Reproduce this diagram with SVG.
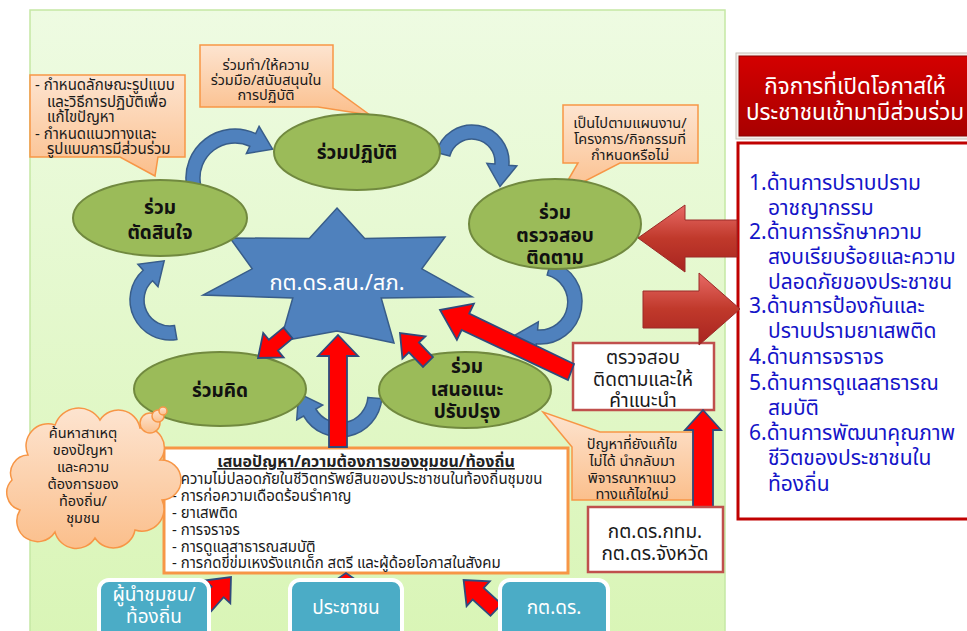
<svg xmlns="http://www.w3.org/2000/svg" width="967" height="631" viewBox="0 0 967 631">
<defs>
<linearGradient id="gPanel" x1="0" y1="0" x2="0" y2="1"><stop offset="0" stop-color="#eefbe2"/><stop offset="1" stop-color="#d9f5b6"/></linearGradient>
<linearGradient id="gPeach" x1="0" y1="0" x2="0" y2="1"><stop offset="0" stop-color="#fde4d0"/><stop offset="1" stop-color="#fbbf8c"/></linearGradient>
<linearGradient id="gRed" x1="0" y1="0" x2="0" y2="1"><stop offset="0" stop-color="#d40000"/><stop offset="1" stop-color="#a80000"/></linearGradient>
<linearGradient id="gBig" x1="0" y1="0" x2="0" y2="1"><stop offset="0" stop-color="#e86a66"/><stop offset="0.5" stop-color="#c0392b"/><stop offset="1" stop-color="#a82420"/></linearGradient>
<style>
text{font-family:Tahoma,"Noto Sans Thai","Noto Sans","DejaVu Sans",sans-serif;}
.call{fill:url(#gPeach);stroke:#f79646;stroke-width:1.5;}
.ct{font-size:15px;fill:#1a1a1a;}
.ctc{font-size:14.5px;fill:#1a1a1a;text-anchor:middle;}
.ell{fill:#9bbb59;stroke:#71893f;stroke-width:2;}
.et{font-size:19px;font-weight:bold;fill:#111;text-anchor:middle;}
.blue{fill:#4f81bd;stroke:#385d8a;stroke-width:1.5;}
.red{fill:#ff0000;stroke:#2f4a7c;stroke-width:1.8;stroke-linejoin:miter;}
.wbox{fill:#fff;stroke:#c0504d;stroke-width:2.5;}
.bt{font-size:19px;fill:#1a1a1a;text-anchor:middle;}
.teal{fill:#4bacc6;stroke:#fff;stroke-width:4;}
.tt{font-size:19px;fill:#fff;text-anchor:middle;}
.lt{font-size:21px;fill:#1414c8;}
.pt{font-size:15px;fill:#1a1a1a;}
</style>
</defs>
<rect x="0" y="0" width="967" height="631" fill="#fff"/>
<rect id="panel" x="30" y="10" width="695" height="630" fill="url(#gPanel)" stroke="#c5e8a4" stroke-width="1.5"/>

<g id="callout-design">
<path class="call" d="M30,75 H185 V157 H158 L155,176 L120,157 H30 Z"/>
<text class="ct" x="35" y="90">- กำหนดลักษณะรูปแบบ</text>
<text class="ct" x="47" y="107">และวิธีการปฏิบัติเพื่อ</text>
<text class="ct" x="47" y="122">แก้ไขปัญหา</text>
<text class="ct" x="35" y="139">- กำหนดแนวทางและ</text>
<text class="ct" x="47" y="154">รูปแบบการมีส่วนร่วม</text>
</g>
<g id="callout-act">
<path class="call" d="M200,45 H333 V88 L370,115 L318,107 H200 Z"/>
<text class="ctc" x="266" y="70">ร่วมทำ/ให้ความ</text>
<text class="ctc" x="266" y="85">ร่วมมือ/สนับสนุนใน</text>
<text class="ctc" x="266" y="100">การปฏิบัติ</text>
</g>
<g id="callout-plan">
<path class="call" d="M563,105 H698 V163 H620 L560,194 L578,163 H563 Z"/>
<text class="ctc" x="630" y="128" font-size="14">เป็นไปตามแผนงาน/</text>
<text class="ctc" x="630" y="144" font-size="14">โครงการ/กิจกรรมที่</text>
<text class="ctc" x="630" y="160" font-size="14">กำหนดหรือไม่</text>
</g>

<g id="cycle-arrows">
<path class="blue" d="M200.5,184.1 L186.7,186.5 A49,49 0 0 1 255.7,133.6 L259.1,126.3 L272.6,149.2 L246.4,153.5 L249.8,146.3 A35,35 0 0 0 200.5,184.1 Z"/>
<path class="blue" d="M449.8,156 L436.3,152.4 A37,37 0 0 1 508.9,165.2 L516.8,165.9 L500,186.5 L486.9,163.3 L494.9,164 A23,23 0 0 0 449.8,156 Z"/>
<path class="blue" d="M547.2,275 L550.9,261.4 A42,42 0 0 1 536.3,343.8 L535.6,351.8 L515,335 L538.3,321.9 L537.6,329.9 A28,28 0 0 0 547.2,275 Z"/>
<path class="blue" d="M367.9,397.4 L381.8,398.7 A42,42 0 0 1 303.6,416 L296.7,420 L298.7,393.4 L322.7,405 L315.8,409 A28,28 0 0 0 367.9,397.4 Z"/>
<path class="blue" d="M174.5,325.6 L176.9,339.4 A40,40 0 0 1 143.2,270.3 L137.9,264.3 L164.2,260.8 L158,286.6 L152.6,280.7 A26,26 0 0 0 174.5,325.6 Z"/>
</g>

<g id="star">
<polygon class="blue" points="337,208 364.7,238.4 445,237 421.8,268.8 472,296.8 381.2,298 394,343 337,331 280.4,341.2 292.8,298 203,295 252.2,268.8 230,238 309.3,238.4"/>
<text x="337" y="290" font-size="22" fill="#fff" text-anchor="middle">กต.ดร.สน./สภ.</text>
</g>

<g id="n-act"><ellipse class="ell" cx="357" cy="152" rx="83" ry="38"/><text class="et" x="357" y="159">ร่วมปฏิบัติ</text></g>
<g id="n-decide"><ellipse class="ell" cx="160" cy="218" rx="87" ry="38"/><text class="et" x="160" y="214">ร่วม</text><text class="et" x="160" y="239">ตัดสินใจ</text></g>
<g id="n-monitor"><ellipse class="ell" cx="555" cy="224" rx="86" ry="45"/><text class="et" x="555" y="219">ร่วม</text><text class="et" x="555" y="242">ตรวจสอบ</text><text class="et" x="555" y="264">ติดตาม</text></g>
<g id="n-think"><ellipse class="ell" cx="220" cy="389" rx="86" ry="37"/><text class="et" x="220" y="397">ร่วมคิด</text></g>
<g id="n-suggest"><ellipse class="ell" cx="465" cy="390" rx="86" ry="38"/><text class="et" x="467" y="373">ร่วม</text><text class="et" x="467" y="396">เสนอแนะ</text><text class="et" x="467" y="418">ปรับปรุง</text></g>

<g id="callout-retry">
<path class="call" d="M572,447 L543,412 L600,432 H693 V500 H572 Z"/>
<text class="ctc" x="632" y="449" font-size="16">ปัญหาที่ยังแก้ไข</text>
<text class="ctc" x="632" y="466" font-size="16">ไม่ได้ นำกลับมา</text>
<text class="ctc" x="632" y="483" font-size="16">พิจารณาหาแนว</text>
<text class="ctc" x="632" y="499" font-size="16">ทางแก้ไขใหม่</text>
</g>

<g id="problems">
<rect x="164" y="448" width="404" height="125" fill="#fff" stroke="#f79646" stroke-width="3"/>
<text x="366" y="467" font-size="16" font-weight="bold" fill="#222" text-anchor="middle" text-decoration="underline">เสนอปัญหา/ความต้องการของชุมชน/ท้องถิ่น</text>
<text class="pt" x="172" y="484">- ความไม่ปลอดภัยในชีวิตทรัพย์สินของประชาชนในท้องถิ่นชุมขน</text>
<text class="pt" x="172" y="501">- การก่อความเดือดร้อนรำคาญ</text>
<text class="pt" x="172" y="518">- ยาเสพติด</text>
<text class="pt" x="172" y="535">- การจราจร</text>
<text class="pt" x="172" y="552">- การดูแลสาธารณสมบัติ</text>
<text class="pt" x="172" y="568">- การกดขี่ข่มเหงรังแกเด็ก สตรี และผู้ด้อยโอกาสในสังคม</text>
</g>

<g id="cloud">
<path class="call" d="M28,455 A22,22 0 0 1 55,425 A25,25 0 0 1 100,420 A22,22 0 0 1 140,428 A20,20 0 0 1 160,460 A20,20 0 0 1 162,500 A22,22 0 0 1 135,530 A22,22 0 0 1 95,538 A22,22 0 0 1 55,532 A20,20 0 0 1 20,510 A18,18 0 0 1 12,480 A18,18 0 0 1 28,455 Z"/>
<circle class="call" cx="150" cy="423" r="10"/>
<circle class="call" cx="158" cy="416" r="6"/>
<circle class="call" cx="163" cy="411" r="4"/>
<text class="ctc" x="83" y="438" font-size="15.5">ค้นหาสาเหตุ</text>
<text class="ctc" x="83" y="455" font-size="15.5">ของปัญหา</text>
<text class="ctc" x="83" y="472" font-size="15.5">และความ</text>
<text class="ctc" x="83" y="489" font-size="15.5">ต้องการของ</text>
<text class="ctc" x="83" y="506" font-size="15.5">ท้องถิ่น/</text>
<text class="ctc" x="83" y="523" font-size="15.5">ชุมชน</text>
</g>

<g id="n-advise">
<rect class="wbox" x="573" y="343" width="141" height="67"/>
<text class="bt" x="643" y="364">ตรวจสอบ</text>
<text class="bt" x="643" y="386">ติดตามและให้</text>
<text class="bt" x="643" y="407">คำแนะนำ</text>
</g>

<g id="connectors">
<polygon class="red" points="329,447 329,356 318,356 338,335 358,356 347,356 347,447"/>
<polygon class="red" points="283.5,327.6 268.9,339.8 263.2,332.9 258,358 283.6,357.5 277.9,350.6 292.5,338.4"/>
<polygon class="red" points="433,357.1 418.9,342.5 425.4,336.3 400,333 402.4,358.5 408.9,352.3 423,366.9"/>
<polygon class="red" points="574,364 469.2,313.6 473.9,303.7 440,310 456.9,339.9 461.6,330 568,380"/>
<polygon class="red" points="693,508 693,430 685,430 703,410 721,430 713,430 713,508"/>
<polygon class="red" points="211,611.3 223.6,597.2 230.3,603.3 231,577 204.9,580.5 211.6,586.6 199,600.7"/>
<polygon class="red" points="337,603 337,586 327,586 346,573 365,586 355,586 355,603"/>
<polygon class="red" points="501.5,604.2 483.7,587.9 489.8,581.3 463.6,580 466.6,606.1 472.7,599.5 490.5,615.8"/>
</g>

<g id="n-province">
<rect class="wbox" x="588" y="507" width="135" height="65"/>
<text class="bt" x="655" y="538">กต.ดร.กทม.</text>
<text class="bt" x="655" y="560">กต.ดร.จังหวัด</text>
</g>

<g id="title">
<rect x="736" y="53" width="240" height="86" fill="#f4f0ec" stroke="#c8c0b8" stroke-width="1"/>
<rect x="739" y="56" width="240" height="80" fill="url(#gRed)" stroke="#8a0000" stroke-width="1"/>
<text x="855" y="94" font-size="22.5" fill="#fff" text-anchor="middle">กิจการที่เปิดโอกาสให้</text>
<text x="855" y="120" font-size="22.5" fill="#fff" text-anchor="middle">ประชาชนเข้ามามีส่วนร่วม</text>
</g>

<g id="list">
<rect x="738" y="143" width="240" height="376" fill="#fff" stroke="#c00000" stroke-width="3"/>
<text class="lt" x="749" y="190">1.ด้านการปราบปราม</text>
<text class="lt" x="768" y="215">อาชญากรรม</text>
<text class="lt" x="749" y="239">2.ด้านการรักษาความ</text>
<text class="lt" x="768" y="264">สงบเรียบร้อยและความ</text>
<text class="lt" x="768" y="289">ปลอดภัยของประชาชน</text>
<text class="lt" x="749" y="313">3.ด้านการป้องกันและ</text>
<text class="lt" x="768" y="338">ปราบปรามยาเสพติด</text>
<text class="lt" x="749" y="364">4.ด้านการจราจร</text>
<text class="lt" x="749" y="390">5.ด้านการดูแลสาธารณ</text>
<text class="lt" x="768" y="415">สมบัติ</text>
<text class="lt" x="749" y="440">6.ด้านการพัฒนาคุณภาพ</text>
<text class="lt" x="768" y="465">ชีวิตของประชาชนใน</text>
<text class="lt" x="768" y="491">ท้องถิ่น</text>
</g>

<g id="big-arrows">
<polygon points="638,238 685,205 685,220 737,220 737,257 685,257 685,272" fill="url(#gBig)" stroke="#9a2a28" stroke-width="1"/>
<polygon points="643,291 699,291 699,273 740,309 699,345 699,328 643,328" fill="url(#gBig)" stroke="#9a2a28" stroke-width="1"/>
</g>

<g id="n-leader">
<rect class="teal" x="99" y="580" width="110" height="70" rx="10"/>
<text class="tt" x="154" y="601">ผู้นำชุมชน/</text>
<text class="tt" x="154" y="623">ท้องถิ่น</text>
</g>
<g id="n-people">
<rect class="teal" x="290" y="580" width="112" height="70" rx="10"/>
<text class="tt" x="346" y="614">ประชาชน</text>
</g>
<g id="n-police">
<rect class="teal" x="500" y="580" width="108" height="70" rx="10"/>
<text class="tt" x="554" y="614">กต.ดร.</text>
</g>
</svg>
